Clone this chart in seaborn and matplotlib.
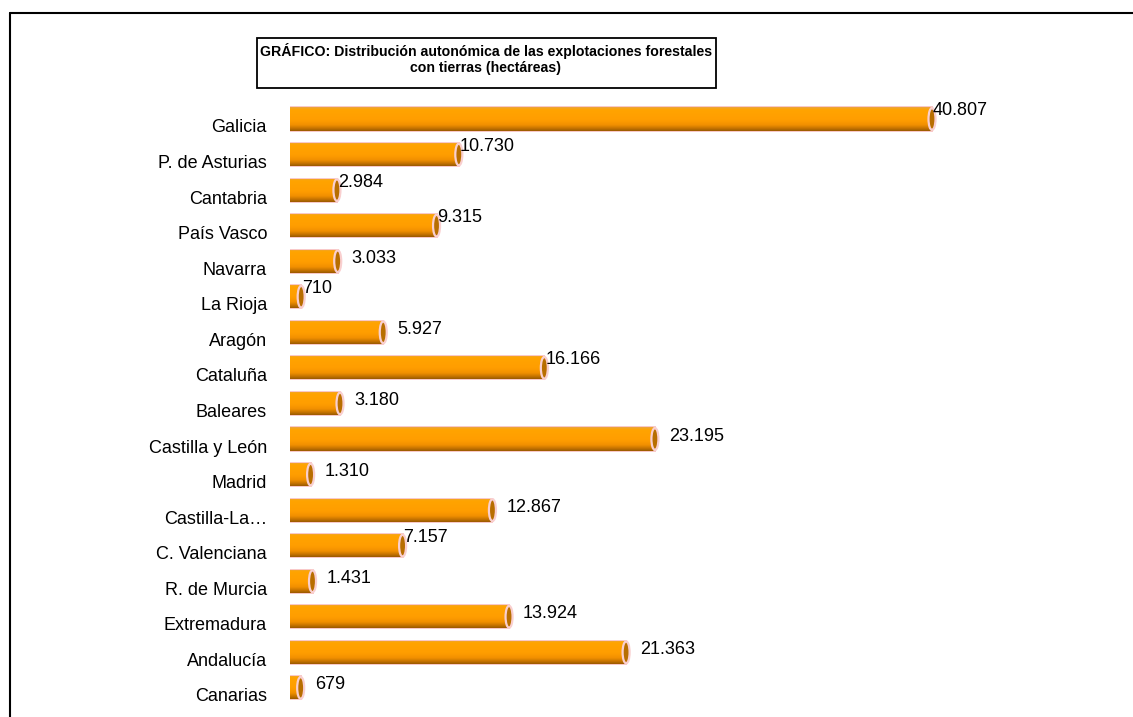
import numpy as np
import pandas as pd
import matplotlib
matplotlib.use("Agg")
import matplotlib.pyplot as plt
from matplotlib.patches import Ellipse, Rectangle
from matplotlib.lines import Line2D
from matplotlib.colors import LinearSegmentedColormap
from matplotlib.transforms import ScaledTranslation
import seaborn as sns

# datos
regiones = ["Galicia", "P. de Asturias", "Cantabria", "País Vasco", "Navarra",
            "La Rioja", "Aragón", "Cataluña", "Baleares", "Castilla y León",
            "Madrid", "Castilla-La…", "C. Valenciana", "R. de Murcia",
            "Extremadura", "Andalucía", "Canarias"]
hectareas = [40807, 10730, 2984, 9315, 3033, 710, 5927, 16166, 3180, 23195,
             1310, 12867, 7157, 1431, 13924, 21363, 679]
titulo = "GRÁFICO: Distribución autonómica de las explotaciones forestales\ncon tierras (hectáreas)"

# posicion de la etiqueta de valor (pegada o separada de la barra)
modo_etiqueta = ["pegada", "pegada", "pegada", "pegada", "separada", "pegada",
                 "separada", "pegada", "separada", "separada", "separada",
                 "separada", "pegada", "separada", "separada", "separada",
                 "separada"]

df = pd.DataFrame({"region": regiones, "ha": hectareas})

sns.set_theme(style="white")
plt.rcParams["font.family"] = ["Liberation Sans", "DejaVu Sans"]
plt.rcParams["text.color"] = "black"

W, H = 1133, 717
fig = plt.figure(figsize=(W / 100, H / 100), dpi=100)

ax_w_px = 800
xmax = 40807 * ax_w_px / 642
ax = fig.add_axes([290 / W, 1 - 705.7 / H, ax_w_px / W, 604.5 / H])

bar_h = 0.65
sns.barplot(data=df, x="ha", y="region", orient="h", color="#FF9900",
            width=bar_h, ax=ax, edgecolor="#F8C8C8", linewidth=1.4, zorder=2)

ax.set_xlim(0, xmax)
ax.set_ylim(len(regiones) - 0.5, -0.5)

# degradado tipo cilindro
cmap = LinearSegmentedColormap.from_list(
    "cil", [(0, "#E9A540"), (0.1, "#FFA400"), (0.55, "#FF9D00"),
            (0.75, "#F29000"), (0.9, "#C47200"), (1, "#9A5A00")])
grad = np.linspace(0, 1, 64).reshape(-1, 1)
for p in list(ax.patches):
    x0, y0 = p.get_xy()
    w, h = p.get_width(), p.get_height()
    im = ax.imshow(grad, cmap=cmap, aspect="auto", extent=(x0, x0 + w, y0 + h, y0),
                   zorder=2.5, interpolation="bilinear")
    im.set_clip_path(p)

ax.set_xlim(0, xmax)
ax.set_ylim(len(regiones) - 0.5, -0.5)

# tapas elipticas al final de cada barra
px_por_unidad = ax_w_px / xmax
cap_w = 7 / px_por_unidad
for i, v in enumerate(hectareas):
    ax.add_patch(Ellipse((v, i), width=cap_w, height=bar_h * 0.95,
                         facecolor="#B86E00", edgecolor="#F9CFCF", lw=1.6, zorder=3))

# etiquetas de valores
for i, (v, modo) in enumerate(zip(hectareas, modo_etiqueta)):
    txt = f"{v:,}".replace(",", ".")
    if modo == "pegada":
        off = (1 * 0.72, 8 * 0.72)
    else:
        off = (14 * 0.72, 3 * 0.72)
    ax.annotate(txt, (v, i), xytext=off, textcoords="offset points",
                ha="left", va="center", fontsize=13, color="black", zorder=4)

ax.set_xlabel("")
ax.set_ylabel("")
ax.set_xticks([])
ax.tick_params(axis="y", length=0, pad=23 * 0.72, labelsize=13, labelcolor="black")
for lab in ax.get_yticklabels():
    lab.set_transform(lab.get_transform() + ScaledTranslation(0, -7 / 100, fig.dpi_scale_trans))
sns.despine(ax=ax, left=True, bottom=True)

# marco exterior
fig.add_artist(Line2D([10 / W, 1], [1 - 13 / H, 1 - 13 / H], color="black", lw=1.5))
fig.add_artist(Line2D([10 / W, 10 / W], [0, 1 - 13 / H], color="black", lw=1.5))

# caja del titulo
fig.add_artist(Rectangle((257 / W, 1 - 88 / H), (716 - 257) / W, 50 / H,
                         transform=fig.transFigure, fill=False, edgecolor="black", lw=1.3))
fig.text(486 / W, 1 - 59 / H, titulo, ha="center", va="center", fontsize=10.2,
         fontweight="bold", linespacing=1.2, color="black")

plt.savefig("out.png", dpi=100)
